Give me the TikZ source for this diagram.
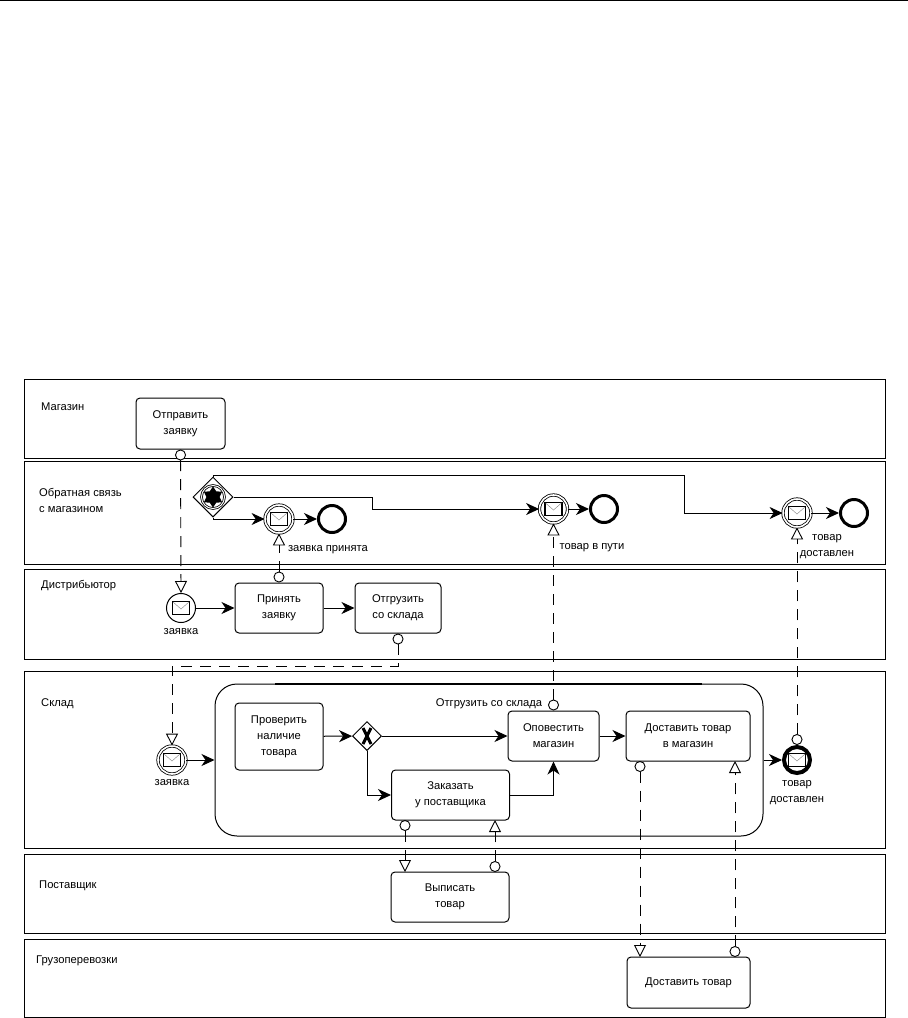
\documentclass[tikz,border=0pt]{standalone}
\usepackage{fontspec}
\setmainfont{Liberation Sans}
\usetikzlibrary{positioning,arrows.meta,shapes.geometric}

\newcommand{\mailicon}{\draw[line width=1.2pt,fill=white] ([shift={(-8.5,-6.5)}]path picture bounding box.center) rectangle ([shift={(8.5,6.5)}]path picture bounding box.center);
\draw[gray,line width=0.4pt] ([shift={(-8,-6)}]path picture bounding box.center) -- ([shift={(0,1)}]path picture bounding box.center) -- ([shift={(8,-6)}]path picture bounding box.center);}

\tikzset{
lane/.style={draw,line width=0.9pt,anchor=north west,minimum width=861pt,inner sep=0pt},
lanename/.style={anchor=west,align=left,inner sep=0pt,font=\fontsize{11.2}{16}\selectfont},
task/.style={draw,line width=1pt,rounded corners=4pt,align=center,fill=white,inner sep=0pt,font=\fontsize{11.2}{16}\selectfont},
eventtext/.style={align=center,inner sep=0pt,font=\fontsize{11.2}{16}\selectfont},
startev/.style={draw,circle,inner sep=0pt,minimum size=29pt,line width=1pt,fill=white,path picture={\mailicon}},
catchev/.style={draw,circle,inner sep=0pt,minimum size=28pt,line width=0.8pt,double,double distance=1.6pt,path picture={\mailicon}},
endev/.style={draw,circle,inner sep=0pt,minimum size=27pt,line width=3pt,fill=white},
endmail/.style={draw,circle,inner sep=0pt,minimum size=26pt,line width=4pt,fill=white,path picture={\mailicon}},
gate/.style={draw,diamond,aspect=1,inner sep=0pt,line width=1pt,fill=white},
flow/.style={line width=1pt,-{Stealth[length=13pt,width=12pt,inset=4pt]}},
msg/.style={line width=0.9pt,dash pattern=on 11pt off 8pt,{Circle[open,fill=white,length=11pt,width=11pt,line width=0.9pt]}-{Triangle[open,fill=white,length=12pt,width=12pt,line width=0.9pt]}}
}

\begin{document}
\begin{tikzpicture}[x=1pt,y=-1pt]
\useasboundingbox (0,0) rectangle (908,1018);
\draw[line width=0.9pt] (0,0.5) -- (908,0.5);

\node[lane,minimum height=79pt] (shop) at (24,379) {};
\node[lane,minimum height=103pt] (feedback) at (24,461) {};
\node[lane,minimum height=90pt] (distrib) at (24,569) {};
\node[lane,minimum height=177pt] (store) at (24,671) {};
\node[lane,minimum height=79pt] (supplier) at (24,854) {};
\node[lane,minimum height=78pt] (carrier) at (24,939) {};

\node[lanename] (shopname) at (41,407) {Магазин};
\node[lanename] (feedbackname) at (39,500.5) {Обратная связь\\с магазином};
\node[lanename] (distribname) at (41,585.5) {Дистрибьютор};
\node[lanename] (storename) at (41,703.5) {Склад};
\node[lanename] (suppliername) at (39,885.5) {Поставщик};
\node[lanename] (carriername) at (36,960.5) {Грузоперевозки};

\node[task,minimum width=89pt,minimum height=51pt] (send) at (180.5,423.5) {Отправить\\заявку};

\node[gate,minimum size=40pt] (evgate) at (213,497) {};
\node[draw,circle,minimum size=23pt,inner sep=0pt,line width=0.8pt,double,double distance=1pt] (evring) at (evgate) {};
\node[fill,star,star points=6,star point ratio=1.6,minimum size=21pt,inner sep=0pt] (evstar) at (evgate) {};

\node[catchev] (accepted) at (279,519) {};
\node[endev] (endaccepted) at (332,519) {};
\node[eventtext] (acceptedtext) at (328,550) {заявка принята};
\node[catchev] (onway) at (553.5,509) {};
\node[endev] (endonway) at (604,509) {};
\node[eventtext] (onwaytext) at (592,548) {товар в пути};
\node[catchev] (delivered) at (797,513) {};
\node[endev] (enddelivered) at (854,513) {};
\node[eventtext] (deliveredtext) at (827,546.5) {товар\\доставлен};

\node[startev] (order) at (181,608) {};
\node[eventtext,below=5pt of order] (ordertext) {заявка};
\node[task,minimum width=88pt,minimum height=50pt] (accept) at (279,608) {Принять\\заявку};
\node[task,minimum width=86pt,minimum height=50pt] (ship) at (398,608) {Отгрузить\\со склада};

\node[draw,fill=white,line width=1pt,rounded corners=22pt,minimum width=548pt,minimum height=152pt,inner sep=0pt] (sub) at (489,760) {};
\draw[line width=2pt] (275,684) -- (702,684);
\node[eventtext] (subname) at (489,704) {Отгрузить со склада};
\node[catchev] (order2) at (172,760) {};
\node[eventtext,below=5pt of order2] (order2text) {заявка};
\node[task,minimum width=88pt,minimum height=67pt] (check) at (279,736.5) {Проверить\\наличие\\товара};
\node[gate,minimum size=29pt,path picture={\draw[line width=3pt] ([shift={(-4,-8)}]path picture bounding box.center) -- ([shift={(4,8)}]path picture bounding box.center) ([shift={(4,-8)}]path picture bounding box.center) -- ([shift={(-4,8)}]path picture bounding box.center);}] (xgate) at (367,736) {};
\node[task,minimum width=118pt,minimum height=50pt] (buy) at (450.5,795) {Заказать\\у поставщика};
\node[task,minimum width=91pt,minimum height=50pt] (notify) at (553.5,736) {Оповестить\\магазин};
\node[task,minimum width=124pt,minimum height=50pt] (bring) at (688,736) {Доставить товар\\в магазин};
\node[endmail] (final) at (797,760) {};
\node[eventtext,below=5pt of final] (finaltext) {товар\\доставлен};

\node[task,minimum width=118pt,minimum height=50pt] (invoice) at (450,897) {Выписать\\товар};
\node[task,minimum width=123pt,minimum height=51pt] (haul) at (688.5,982.5) {Доставить товар};

\coordinate (buyout) at (405,820);
\coordinate (invoicein) at (405,872);
\coordinate (buyin) at (495,820);
\coordinate (invoiceout) at (495,872);
\coordinate (bringout) at (640,761);
\coordinate (haulin) at (640,957);
\coordinate (bringin) at (735,761);
\coordinate (haulout) at (735,957);

\draw[flow] (evgate.south) |- (accepted);
\draw[flow] (evgate.east) -- (372,497) |- (onway);
\draw[flow] (evgate.north) -- (213,475) -- (684,475) |- (delivered);
\draw[flow] (accepted) -- (endaccepted);
\draw[flow] (onway) -- (endonway);
\draw[flow] (delivered) -- (enddelivered);
\draw[flow] (order) -- (accept);
\draw[flow] (accept) -- (ship);
\draw[flow] (order2) -- (order2 -| sub.west);
\draw[flow] (check) -- (xgate);
\draw[flow] (xgate) -- (notify);
\draw[flow] (xgate.south) |- (buy);
\draw[flow] (buy) -| (notify.south);
\draw[flow] (notify) -- (bring);
\draw[flow] (final -| sub.east) -- (final);

\draw[msg] (send.south) -- (order.north);
\draw[msg] (accept.north) -- (accepted.south);
\draw[msg] (ship.south) -- (398,666) -| (order2.north);
\draw[msg] (notify.north) -- (onway.south);
\draw[msg] (final.north) -- (delivered.south);
\draw[msg] (buyout) -- (invoicein);
\draw[msg] (invoiceout) -- (buyin);
\draw[msg] (bringout) -- (haulin);
\draw[msg] (haulout) -- (bringin);
\end{tikzpicture}
\end{document}
